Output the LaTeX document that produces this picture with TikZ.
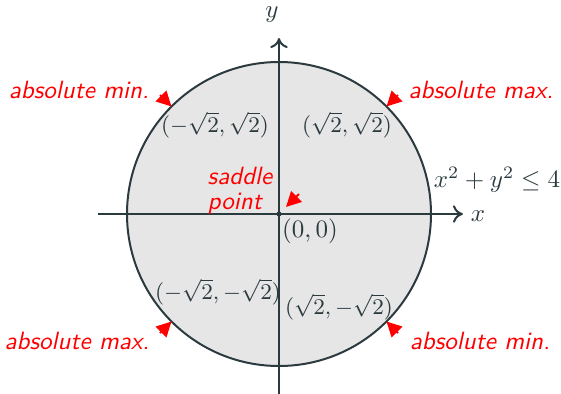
\documentclass[tikz,border=0pt]{standalone}
\usetikzlibrary{arrows.meta}
\definecolor{axiscol}{HTML}{2B3A3F}
\definecolor{fillcol}{HTML}{E6E6E6}
\definecolor{txtcol}{HTML}{2B3A3F}
\begin{document}
\begin{tikzpicture}[x=0.4pt,y=-0.4pt,
  axis/.style={draw=axiscol,line width=0.8pt,-{To[length=4pt,width=7pt]}},
  redlab/.style={text=red,font=\sffamily\itshape},
  redarr/.style={draw=red,line width=0.8pt,-{Triangle[length=6pt,width=6pt]}},
  mlab/.style={text=txtcol},
  plab/.style={text=txtcol,font=\fontsize{8.6}{10}\selectfont}]
\useasboundingbox (0,0) rectangle (561,394);
\coordinate (O) at (279,214);
\fill[fillcol] (O) circle[radius=152];
\draw[axis] (98,214) coordinate (xs) -- (463,214) coordinate (xe);
\draw[axis] (279,394) coordinate (ys) -- (279,38) coordinate (ye);
\draw[draw=axiscol,line width=0.8pt] (O) circle[radius=152];
\fill[axiscol] (O) circle[radius=2.5];
\node[mlab] (xl) at (478,216) {$x$};
\node[mlab] (yl) at (272,15) {$y$};
\node[mlab] (o) at (310,231) {$(0,0)$};
\node[plab] (p1) at (215,125) {$(-\sqrt{2},\sqrt{2})$};
\node[plab] (p2) at (347,125) {$(\sqrt{2},\sqrt{2})$};
\node[plab] (p3) at (218,292) {$(-\sqrt{2},-\sqrt{2})$};
\node[plab] (p4) at (339,307) {$(\sqrt{2},-\sqrt{2})$};
\node[mlab] (eq) at (497,180) {$x^2+y^2\leq 4$};
\node[redlab,align=left,inner sep=0pt] (sp) at (240,191) {saddle\\[-2pt]point};
\node[redlab] (l1) at (79,90) {absolute min.};
\node[redlab] (l2) at (481,90) {absolute max.};
\node[redlab] (l3) at (77,341) {absolute max.};
\node[redlab] (l4) at (480,341) {absolute min.};
\coordinate (c1) at (171.5,106.5);
\coordinate (c2) at (386.5,106.5);
\coordinate (c3) at (171.5,321.5);
\coordinate (c4) at (386.5,321.5);
\coordinate (s1) at (160,95);
\coordinate (s2) at (398,95);
\coordinate (s3) at (160,333);
\coordinate (s4) at (398,333);
\draw[redarr] (s1) -- (c1);
\draw[redarr] (s2) -- (c2);
\draw[redarr] (s3) -- (c3);
\draw[redarr] (s4) -- (c4);
\coordinate (sa) at (299,194);
\coordinate (sb) at (286,207);
\draw[redarr] (sa) -- (sb);
\end{tikzpicture}
\end{document}
